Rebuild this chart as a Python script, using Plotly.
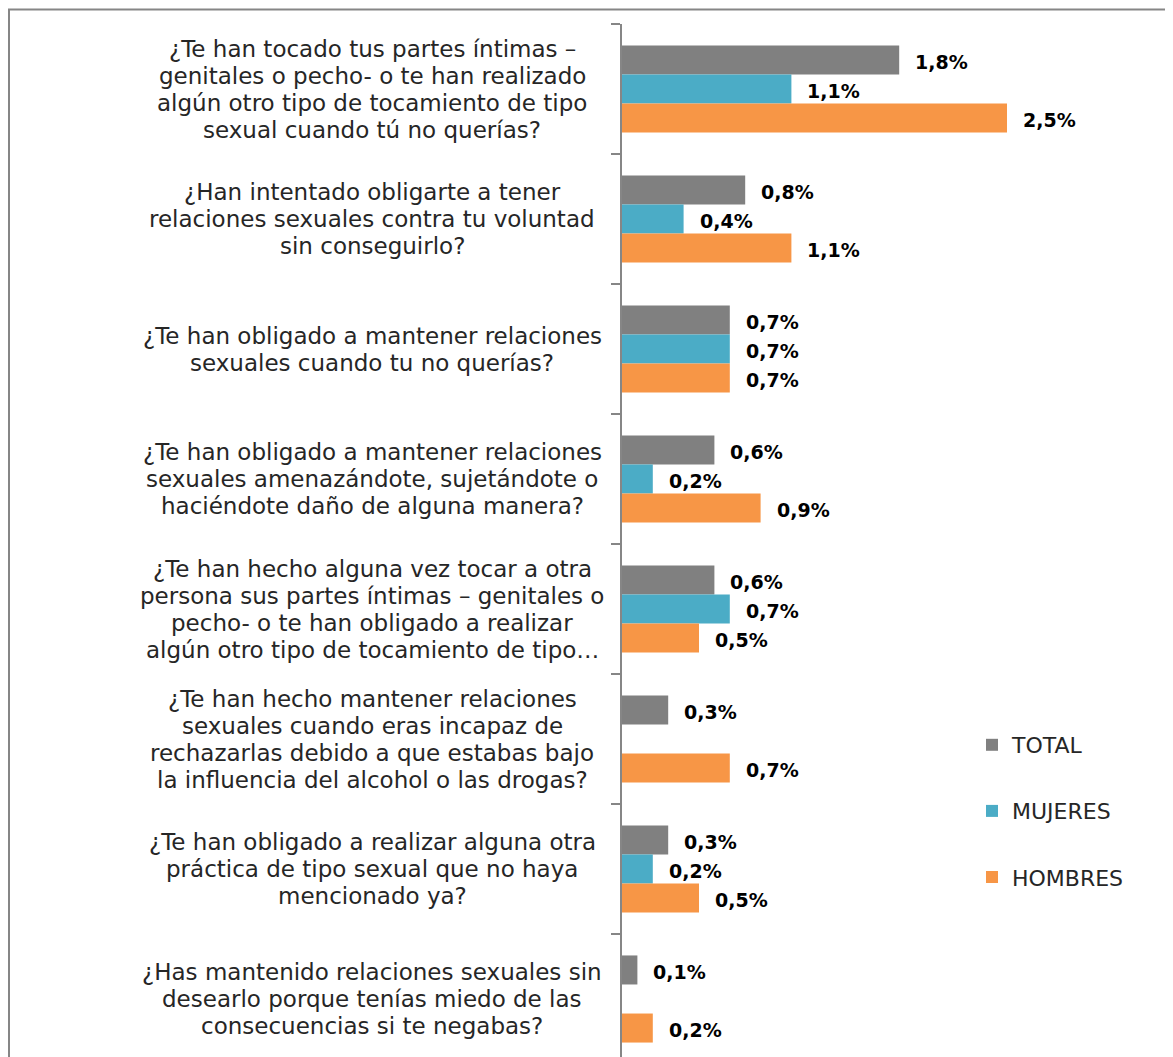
import plotly.graph_objects as go

categories = [
    "¿Te han tocado tus partes íntimas –<br>genitales o pecho- o te han realizado<br>algún otro tipo de tocamiento de tipo<br>sexual cuando tú no querías?",
    "¿Han intentado obligarte a tener<br>relaciones sexuales contra tu voluntad<br>sin conseguirlo?",
    "¿Te han obligado a mantener relaciones<br>sexuales cuando tu no querías?",
    "¿Te han obligado a mantener relaciones<br>sexuales amenazándote, sujetándote o<br>haciéndote daño de alguna manera?",
    "¿Te han hecho alguna vez tocar a otra<br>persona sus partes íntimas – genitales o<br>pecho- o te han obligado a realizar<br>algún otro tipo de tocamiento de tipo…",
    "¿Te han hecho mantener relaciones<br>sexuales cuando eras incapaz de<br>rechazarlas debido a que estabas bajo<br>la influencia del alcohol o las drogas?",
    "¿Te han obligado a realizar alguna otra<br>práctica de tipo sexual que no haya<br>mencionado ya?",
    "¿Has mantenido relaciones sexuales sin<br>desearlo porque tenías miedo de las<br>consecuencias si te negabas?",
]
total = [1.8, 0.8, 0.7, 0.6, 0.6, 0.3, 0.3, 0.1]
mujeres = [1.1, 0.4, 0.7, 0.2, 0.7, None, 0.2, None]
hombres = [2.5, 1.1, 0.7, 0.9, 0.5, 0.7, 0.5, 0.2]

series = [("TOTAL", total, "#808080"), ("MUJERES", mujeres, "#4bacc6"), ("HOMBRES", hombres, "#f79646")]

# page has an 8px body margin; all figure coords are page coords minus 8
OFF = 8
W, H = 1173, 1057
plot_l, plot_r, plot_t, plot_b = 622 - OFF, W, 24 - OFF, H
pw = plot_r - plot_l
ph = plot_b - plot_t
px_per_unit = 154.0
band = 130.0
bargap = 0.33
line_h = 27

FONT = "DejaVu Sans"
TXT = "#262626"

fig = go.Figure()
idx = list(range(len(categories)))
for k, (name, vals, col) in enumerate(series):
    fig.add_trace(go.Bar(
        y=idx, x=vals, name=name, orientation="h",
        marker=dict(color=col, line=dict(width=0)),
        legendgroup=name,
    ))

annotations = []
n = len(series)
w = (1 - bargap) / n
for k, (name, vals, col) in enumerate(series):
    off = -(1 - bargap) / 2 + w * (k + 0.5)
    for i, v in enumerate(vals):
        if v is None:
            continue
        annotations.append(dict(
            x=v, y=i + off, xref="x", yref="y",
            text="<b>" + f"{v:.1f}".replace(".", ",") + "%</b>",
            showarrow=False, xanchor="left", yanchor="middle", xshift=14, yshift=-2,
            font=dict(family=FONT, size=19, color="#000000"),
        ))

label_cx = 372 - OFF
for i, c in enumerate(categories):
    lines = c.split("<br>")
    m = len(lines)
    for j, ln in enumerate(lines):
        annotations.append(dict(
            x=(label_cx - plot_l) / pw, y=i, xref="paper", yref="y",
            yshift=-(j - (m - 1) / 2) * line_h,
            text=ln, showarrow=False, xanchor="center", yanchor="middle", align="center",
            font=dict(family=FONT, size=23, color=TXT),
        ))

y_bottom = -0.5 + ph / band
fig.update_layout(
    width=W, height=H,
    margin=dict(l=plot_l, r=W - plot_r, t=plot_t, b=H - plot_b, pad=0),
    paper_bgcolor="white", plot_bgcolor="white",
    barmode="group", bargap=bargap, bargroupgap=0,
    showlegend=True,
    legend=dict(
        x=(972 - OFF - plot_l) / pw, y=1 - (724 - OFF - plot_t) / ph, xanchor="left", yanchor="top",
        font=dict(family=FONT, size=22, color=TXT),
        tracegroupgap=34.5, bgcolor="rgba(0,0,0,0)", traceorder="grouped",
    ),
    annotations=annotations,
    xaxis=dict(range=[0, pw / px_per_unit], visible=False, fixedrange=True),
    yaxis=dict(
        type="linear", range=[y_bottom, -0.5],
        showticklabels=False, showgrid=False, zeroline=False,
        showline=True, linecolor="#868686", linewidth=1.5,
        ticks="outside", ticklen=9, tickcolor="#868686", tickwidth=1.5,
        tickmode="array", tickvals=[i - 0.5 for i in range(len(categories) + 1)],
    ),
    shapes=[dict(
        type="rect", xref="paper", yref="paper",
        x0=(1 - plot_l) / pw, x1=(W + 20 - plot_l) / pw,
        y0=1 - (H + 20 - plot_t) / ph, y1=1 - (1.5 - plot_t) / ph,
        line=dict(color="#868686", width=2), fillcolor="rgba(0,0,0,0)", layer="below",
    )],
)

fig.write_html("out.html")
